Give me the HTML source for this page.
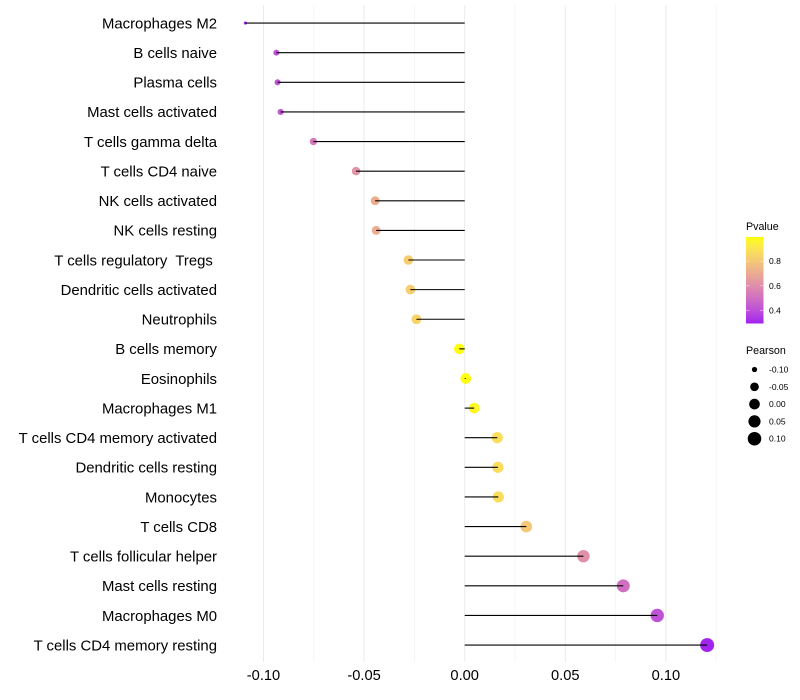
<!DOCTYPE html>
<html lang="en">
<head>
<meta charset="utf-8">
<title>Immune cell correlation lollipop chart</title>
<style>
html,body{margin:0;padding:0;background:#fff;}
svg{display:block;font-family:"Liberation Sans",sans-serif;}
</style>
</head>
<body>
<svg id="chart" width="800" height="700" viewBox="0 0 800 700" xmlns="http://www.w3.org/2000/svg">
  <defs>
    <linearGradient id="pvalue-gradient" x1="0" y1="1" x2="0" y2="0"></linearGradient>
  </defs>
  <rect x="0" y="0" width="800" height="700" fill="#ffffff"/>
  <g id="grid"></g>
  <g id="points"></g>
  <g id="stems"></g>
  <g id="ylabels"></g>
  <g id="xlabels"></g>
  <g id="legend-p">
    <text x="746" y="230" font-size="10.7" fill="#000">Pvalue</text>
    <rect x="746" y="237" width="17.5" height="86.5" fill="url(#pvalue-gradient)"/>
  </g>
  <g id="legend-s">
    <text x="746" y="354" font-size="10.7" fill="#000">Pearson</text>
  </g>
</svg>
<script>
const categories = ["Macrophages M2","B cells naive","Plasma cells","Mast cells activated","T cells gamma delta","T cells CD4 naive","NK cells activated","NK cells resting","T cells regulatory  Tregs ","Dendritic cells activated","Neutrophils","B cells memory","Eosinophils","Macrophages M1","T cells CD4 memory activated","Dendritic cells resting","Monocytes","T cells CD8","T cells follicular helper","Mast cells resting","Macrophages M0","T cells CD4 memory resting"];
const pearson = [-0.109,-0.0936,-0.093,-0.0915,-0.0752,-0.054,-0.0445,-0.044,-0.028,-0.027,-0.024,-0.0027,0.0005,0.0047,0.0162,0.0165,0.0167,0.0306,0.059,0.0788,0.0957,0.1205];
const pvalues = [0.30,0.41,0.42,0.43,0.53,0.62,0.71,0.71,0.82,0.82,0.84,0.99,0.99,0.97,0.875,0.875,0.875,0.80,0.61,0.50,0.41,0.30];
const xMajorTicks = [-0.10,-0.05,0.00,0.05,0.10];
const xMinorTicks = [-0.075,-0.025,0.025,0.075,0.125];
const pTicks = [0.4,0.6,0.8];
const pLow = 0.294;
const pHigh = 0.996;
const sizeTicks = [-0.10,-0.05,0.00,0.05,0.10];

const NS = "http://www.w3.org/2000/svg";
function make(tag, attrs, parent, text){
  const el = document.createElementNS(NS, tag);
  for (const k in attrs) el.setAttribute(k, attrs[k]);
  if (text !== undefined) el.textContent = text;
  parent.appendChild(el);
  return el;
}
const xScale = v => 464.7 + v * 2012;
const yScale = i => 23.05 + i * 29.62;
const pearsonMin = Math.min(...pearson);
const pearsonMax = Math.max(...pearson);
const rScale = v => 1.6 + 5.4 * Math.sqrt(Math.max(0, (v - pearsonMin) / (pearsonMax - pearsonMin)));
const pBarY = p => 323.5 - (p - pLow) / (pHigh - pLow) * 86.5;

function rgb2lab(c){
  const f = u => { u /= 255; return u > 0.04045 ? Math.pow((u + 0.055) / 1.055, 2.4) : u / 12.92; };
  const r = f(c[0]), g = f(c[1]), b = f(c[2]);
  const X = (0.4124*r + 0.3576*g + 0.1805*b) / 0.95047;
  const Y = 0.2126*r + 0.7152*g + 0.0722*b;
  const Z = (0.0193*r + 0.1192*g + 0.9505*b) / 1.08883;
  const h = t => t > 0.008856 ? Math.cbrt(t) : 7.787*t + 16/116;
  return [116*h(Y) - 16, 500*(h(X) - h(Y)), 200*(h(Y) - h(Z))];
}
function lab2rgb(l){
  const fy = (l[0] + 16) / 116, fx = l[1] / 500 + fy, fz = fy - l[2] / 200;
  const h = t => t*t*t > 0.008856 ? t*t*t : (t - 16/116) / 7.787;
  const X = h(fx)*0.95047, Y = h(fy), Z = h(fz)*1.08883;
  const g = u => { u = Math.max(0, Math.min(1, u)); return 255 * (u > 0.0031308 ? 1.055*Math.pow(u, 1/2.4) - 0.055 : 12.92*u); };
  return [g(3.2406*X - 1.5372*Y - 0.4986*Z), g(-0.9689*X + 1.8758*Y + 0.0415*Z), g(0.0557*X - 0.2040*Y + 1.0570*Z)];
}
const labLow = rgb2lab([160,32,240]);
const labHigh = rgb2lab([255,255,0]);
function colorAt(t){
  t = Math.max(0, Math.min(1, t));
  const c = lab2rgb(labLow.map((v, i) => v + (labHigh[i] - v) * t));
  return "rgb(" + c.map(Math.round).join(",") + ")";
}
const pColor = p => colorAt((p - pLow) / (pHigh - pLow));

const grid = document.getElementById("grid");
xMinorTicks.forEach(v => {
  const el = make("line", {x1:xScale(v), x2:xScale(v), y1:5, y2:662, stroke:"#f4f4f4", "stroke-width":0.8}, grid);
  
  
});
xMajorTicks.forEach(v => {
  const el = make("line", {x1:xScale(v), x2:xScale(v), y1:5, y2:662, stroke:"#ebebeb", "stroke-width":1}, grid);
  
  
});

const pointsG = document.getElementById("points");
const stemsG = document.getElementById("stems");
const yG = document.getElementById("ylabels");
categories.forEach((name, i) => {
  const y = yScale(i);
  const c = make("circle", {cx:xScale(pearson[i]), cy:y, r:rScale(pearson[i]), fill:pColor(pvalues[i])}, pointsG);
  
  
  const s = make("line", {x1:xScale(0), x2:xScale(pearson[i]), y1:y, y2:y, stroke:"#000", "stroke-width":1.1}, stemsG);
  
  
  const t = make("text", {x:217, y:y + 5.3, "text-anchor":"end", "font-size":14.9, fill:"#000", "xml:space":"preserve"}, yG, name);
  t.style.whiteSpace = "pre";
  
  
});

const xG = document.getElementById("xlabels");
xMajorTicks.forEach(v => {
  const t = make("text", {x:xScale(v), y:680, "text-anchor":"middle", "font-size":14.67, fill:"#000"}, xG, v.toFixed(2));
  
  
});

const grad = document.getElementById("pvalue-gradient");
for (let k = 0; k <= 20; k++) {
  make("stop", {offset:(k * 5) + "%", "stop-color":colorAt(k / 20)}, grad);
}
const lp = document.getElementById("legend-p");
pTicks.forEach(p => {
  const y = pBarY(p);
  const a = make("line", {x1:746, x2:749.5, y1:y, y2:y, stroke:"#fff", "stroke-opacity":0.7, "stroke-width":0.6}, lp);
  
  
  const b = make("line", {x1:760, x2:763.5, y1:y, y2:y, stroke:"#fff", "stroke-opacity":0.7, "stroke-width":0.6}, lp);
  
  
  const t = make("text", {x:769, y:y + 3, "font-size":8.5, fill:"#000"}, lp, p.toFixed(1));
  
  
});
const ls = document.getElementById("legend-s");
sizeTicks.forEach((v, i) => {
  const y = 369.5 + i * 17.3;
  const c = make("circle", {cx:754.5, cy:y, r:rScale(v), fill:"#000"}, ls);
  
  
  const t = make("text", {x:769, y:y + 3, "font-size":8.5, fill:"#000"}, ls, v.toFixed(2));
  
  
});
</script>
</body>
</html>
